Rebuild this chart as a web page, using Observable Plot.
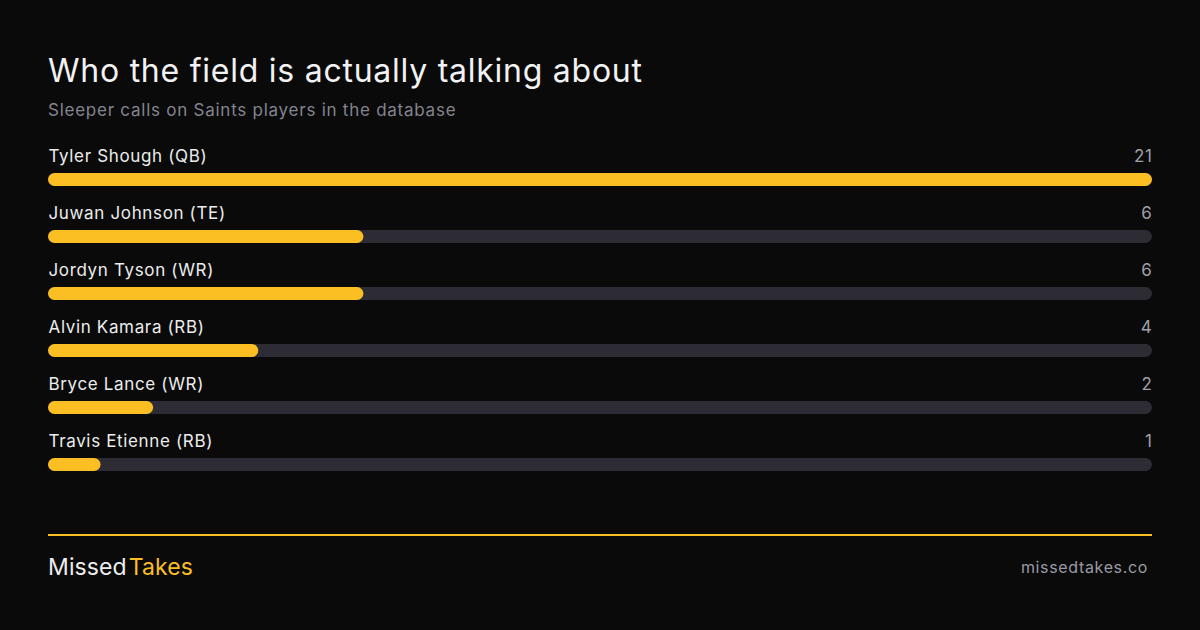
<!DOCTYPE html>
<html>
<head>
<meta charset="utf-8">
<script src="https://cdn.jsdelivr.net/npm/d3@7"></script>
<script src="https://cdn.jsdelivr.net/npm/@observablehq/plot@0.6"></script>
<style>
  html, body { margin: 0; padding: 0; background: #0a0a0a; }
  body { width: 1200px; height: 630px; position: relative; overflow: hidden; font-family: Inter, "Noto Sans", sans-serif; }
  .abs { position: absolute; white-space: nowrap; line-height: 1; }
  #title { left: 48px; top: 55px; font-size: 32px; color: #f2f2f2; font-weight: 400; letter-spacing: 0.75px; }
  #subtitle { left: 48px; top: 102px; font-size: 17px; color: #84848e; letter-spacing: 0.75px; }
  #chart { position: absolute; left: 0; top: 130px; }
  #chart text { letter-spacing: 0.65px; }
  #rule { position: absolute; left: 48px; top: 534px; width: 1104px; height: 2px; background: #fbbf24; }
  #brand { left: 48px; top: 556px; font-size: 23px; color: #ededed; letter-spacing: 0.1px; }
  #brand span { color: #fbbf24; margin-left: 2px; }
  #site { right: 52px; top: 559px; font-size: 16px; color: #9a9aa4; letter-spacing: 0.65px; }
</style>
</head>
<body>
<div class="abs" id="title">Who the field is actually talking about</div>
<div class="abs" id="subtitle">Sleeper calls on Saints players in the database</div>
<div id="chart"></div>
<div id="rule"></div>
<div class="abs" id="brand">Missed<span>Takes</span></div>
<div class="abs" id="site">missedtakes.co</div>
<script>
const players = ["Tyler Shough (QB)", "Juwan Johnson (TE)", "Jordyn Tyson (WR)", "Alvin Kamara (RB)", "Bryce Lance (WR)", "Travis Etienne (RB)"];
const calls = [21, 6, 6, 4, 2, 1];
const maxCalls = 21;

const data = players.map((name, i) => ({name, calls: calls[i]}));

const chart = Plot.plot({
  width: 1200,
  height: 360,
  margin: 0,
  style: {background: "transparent", fontFamily: "Inter, 'Noto Sans', sans-serif"},
  x: {domain: [0, maxCalls], range: [48, 1152], axis: null},
  y: {domain: players, range: [43, 341], paddingInner: 0.772, paddingOuter: 0, axis: null},
  marks: [
    Plot.barX(data, {y: "name", x1: 0, x2: maxCalls, fill: "#2d2b34", rx: 6.5}),
    Plot.barX(data, {y: "name", x1: 0, x2: "calls", fill: "#fbbf24", rx: 6.5}),
    Plot.text(data, {y: "name", x: 0, text: "name", textAnchor: "start", dy: -23, fontSize: 17, fill: "#ececec"}),
    Plot.text(data, {y: "name", x: maxCalls, text: d => String(d.calls), textAnchor: "end", dy: -23, fontSize: 17, fill: "#a0a0a8"})
  ]
});
document.getElementById("chart").appendChild(chart);
</script>
</body>
</html>
